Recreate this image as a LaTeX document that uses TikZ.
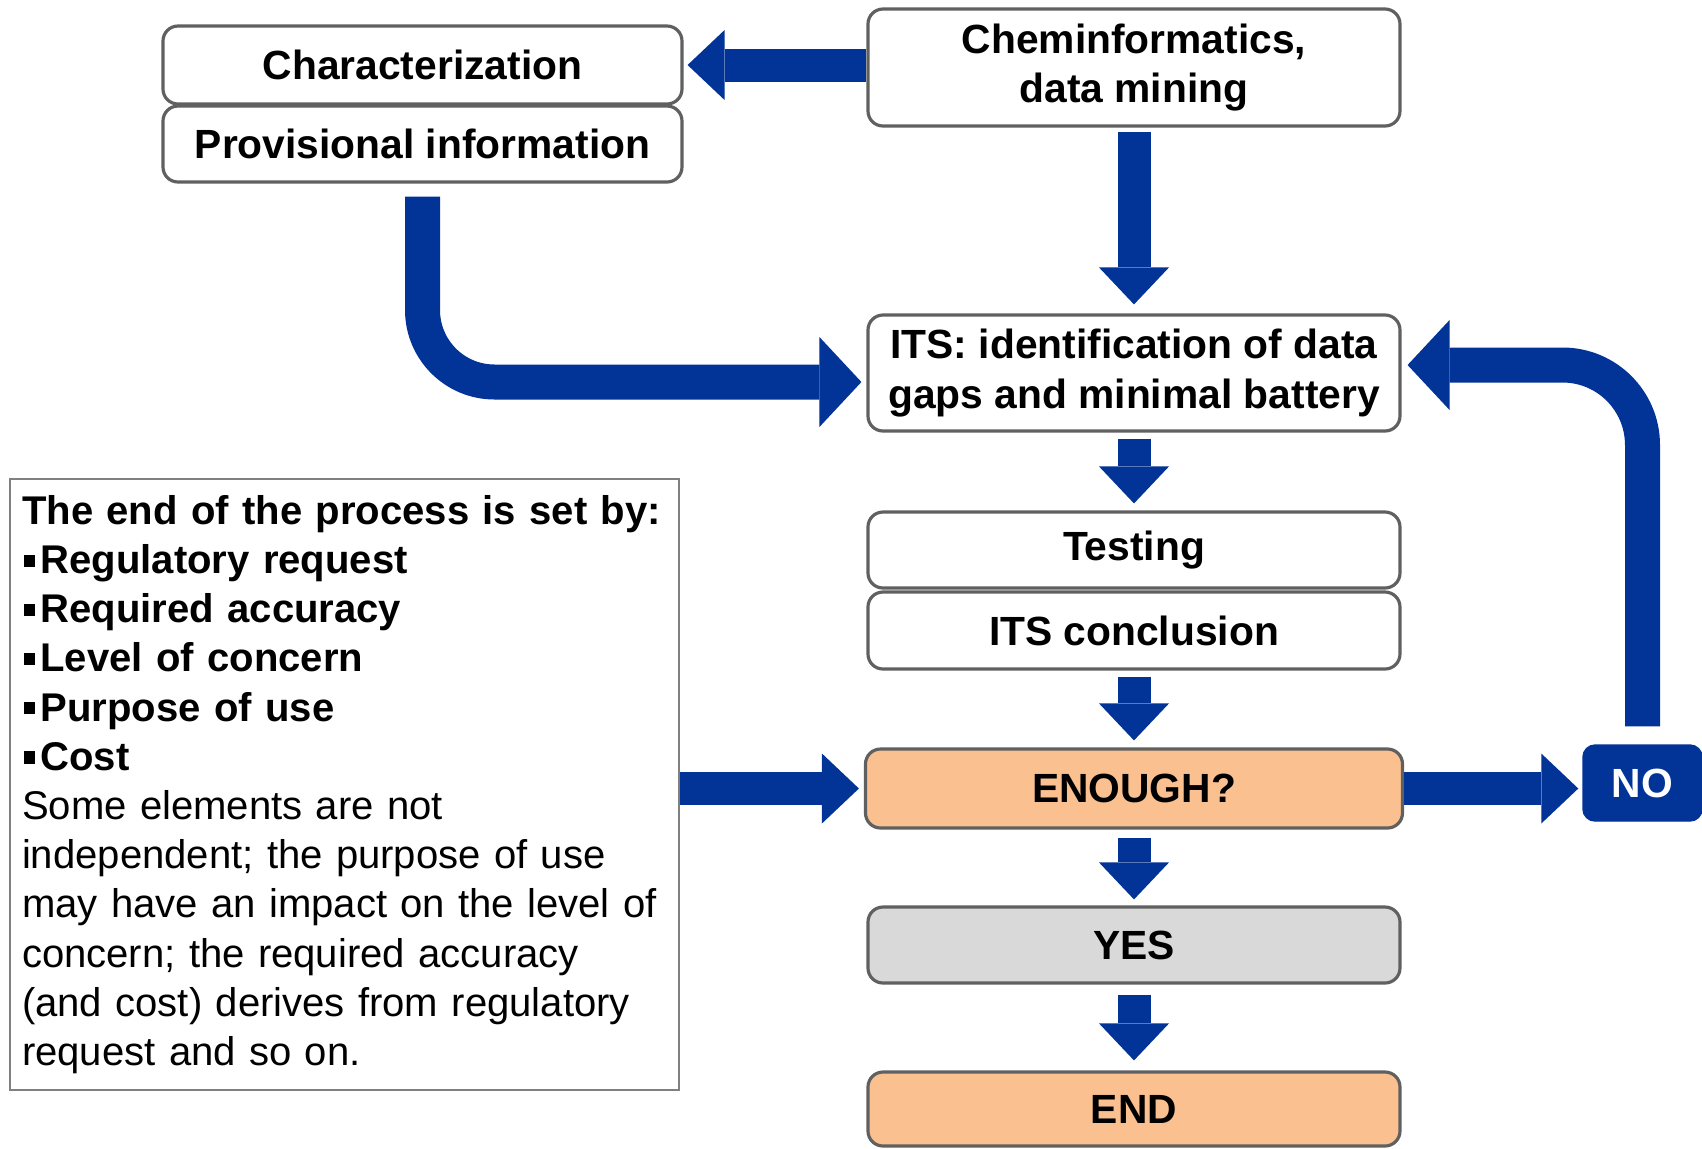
\documentclass[tikz,border=0pt]{standalone}
\usepackage{fontspec}
\setmainfont{Liberation Sans}
\usepackage{tikz}
\usetikzlibrary{positioning,arrows.meta,calc}
\definecolor{arrowblue}{RGB}{2,52,152}
\definecolor{boxgray}{RGB}{96,96,96}
\definecolor{peach}{RGB}{250,192,143}
\definecolor{yesgray}{RGB}{217,217,217}
\newcommand{\boxfont}{\fontsize{11.6}{14}\selectfont\bfseries}
\newcommand{\plainfont}{\fontsize{11.4}{14}\selectfont}
\newcommand{\sqbullet}{\hspace{0.05em}\rule[0.17em]{0.27em}{0.3em}\hspace{0.14em}}
\tikzset {
    style A/.style={
        fill=white,
        draw=boxgray,
        line width=0.9pt,
        rectangle, % white box
        rounded corners=0.15cm,
        minimum width=5.32cm,
        minimum height=0.76cm,
        inner sep=2pt,
        align=center,
        font=\boxfont,
    },
    style B/.style={
        style A,
        fill=peach,
        minimum height=0.79cm,
    },
    style C/.style={
        style A,
        fill=yesgray,
    },
    style D/.style={
        fill=arrowblue,
        draw=arrowblue,
        text=white,
        rectangle,
        rounded corners=0.12cm,
        minimum width=1.19cm,
        minimum height=0.76cm,
        align=center,
        font=\boxfont,
    },
    style E/.style={
        fill=white,
        draw=gray,
        line width=0.6pt,
        rectangle,
        anchor=north west,
        text width=6.45cm,
        inner xsep=0.12cm,
        inner ysep=0.12cm,
        minimum height=6.11cm,
        align=left,
        font=\plainfont,
    },
    arrow A/.style={
        draw=arrowblue,
        line width=0.33cm,
        -{Triangle[width=0.7cm,length=0.37cm,line width=0pt 0 0]},
    },
    arrow B/.style={
        draw=arrowblue,
        line width=0.35cm,
        -{Triangle[width=0.9cm,length=0.42cm,line width=0pt 0 0]},
    },
}

\begin{document}
\begin{tikzpicture}
\fill[white] (0,0) rectangle (17.02,-11.48);
\useasboundingbox (0,0) rectangle (17.02,-11.48);

\node[style A, minimum width=5.19cm, minimum height=0.78cm] at (4.225,-0.65) (char) {Characterization};
\node[style A, minimum width=5.19cm] at (4.225,-1.44) (prov) {Provisional information};
\node[style A, minimum height=1.17cm] at (11.34,-0.675) (chem) {Cheminformatics,\\data mining};
\node[style A, minimum height=1.16cm] at (11.34,-3.73) (its) {ITS: identification of data\\gaps and minimal battery};
\node[style A] at (11.34,-5.50) (test) {Testing};
\node[style A, minimum height=0.77cm] at (11.34,-6.305) (concl) {ITS conclusion};
\node[style B, minimum width=5.37cm] at (11.34,-7.885) (enough) {ENOUGH?};
\node[style C] at (11.34,-9.45) (yes) {YES};
\node[style B, minimum height=0.74cm] at (11.34,-11.09) (end) {END};
\node[style D] at (16.425,-7.83) (no) {NO};
\node[style E] at (0.09,-4.78) (txt) {{\bfseries The end of the process is set by:\\
\sqbullet Regulatory request\\
\sqbullet Required accuracy\\
\sqbullet Level of concern\\
\sqbullet Purpose of use\\
\sqbullet Cost}\\
Some elements are not\\
independent; the purpose of use\\
may have an impact on the level of\\
concern; the required accuracy\\
(and cost) derives from regulatory\\
request and so on.};

% flow arrows
\draw[arrow A] (chem.west |- char.east) -- ([xshift=0.04cm]char.east);
\draw[arrow A] ([yshift=-0.04cm]chem.south) -- ([yshift=0.09cm]its.north);
\draw[arrow B, rounded corners=0.72cm] ([yshift=-0.13cm]prov.south) |- ([xshift=-0.05cm,yshift=-0.09cm]its.west);
\draw[arrow A] ([yshift=-0.06cm]its.south) -- ([yshift=0.07cm]test.north);
\draw[arrow A] ([yshift=-0.06cm]concl.south) -- ([yshift=0.07cm]enough.north);
\draw[arrow A] ([yshift=-0.08cm]enough.south) -- ([yshift=0.06cm]yes.north);
\draw[arrow A] ([yshift=-0.10cm]yes.south) -- ([yshift=0.10cm]end.north);
\draw[arrow A] (txt.east |- enough.west) -- ([xshift=-0.05cm]enough.west);
\draw[arrow A] (enough.east) -- ($(no.west |- enough.east)+(-0.04,0)$);
\draw[arrow B, rounded corners=0.8cm] ([yshift=0.18cm]no.north) |- ([xshift=0.06cm,yshift=0.08cm]its.east);
\end{tikzpicture}
\end{document}
